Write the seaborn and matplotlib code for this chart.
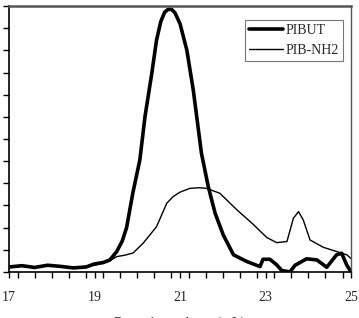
import matplotlib
matplotlib.use("Agg")
import matplotlib.pyplot as plt
import seaborn as sns
import pandas as pd
from matplotlib.ticker import MultipleLocator
from matplotlib.lines import Line2D

sns.set_theme(style="white")
plt.rcParams['font.family'] = ['Liberation Serif', 'DejaVu Serif']

# PIBUT (thick line)
pibut_x = [17.0, 17.3, 17.6, 17.9, 18.2, 18.5, 18.8, 19.0, 19.2, 19.36, 19.52, 19.65, 19.75, 19.9,
           20.06, 20.18, 20.34, 20.45, 20.55, 20.64, 20.72, 20.8, 20.88, 21.0, 21.16, 21.31, 21.5, 21.66,
           21.82, 22.01, 22.25, 22.56, 22.87, 22.94, 23.1, 23.26, 23.38, 23.57, 23.69, 23.96, 24.2,
           24.43, 24.66, 24.78, 24.9, 25.0]
pibut_y = [0.22, 0.28, 0.2, 0.3, 0.25, 0.18, 0.22, 0.36, 0.42, 0.54, 0.92, 1.4, 2.0, 3.6,
           5.05, 7.0, 8.97, 10.46, 11.3, 11.72, 11.85, 11.85, 11.7, 11.2, 10.0, 8.2, 5.36, 3.85,
           2.65, 1.67, 0.77, 0.47, 0.24, 0.57, 0.57, 0.32, 0.06, 0.0, 0.3, 0.59, 0.54,
           0.21, 0.77, 0.84, 0.3, 0.0]

# PIB-NH2 (thin line)
nh2_x = [17.0, 17.3, 17.6, 17.9, 18.2, 18.5, 18.8, 19.0, 19.2, 19.36, 19.52, 19.7, 19.9, 20.14,
         20.45, 20.69, 20.84, 21.0, 21.23, 21.45, 21.62, 21.93, 22.33, 22.68, 23.03, 23.26, 23.5,
         23.65, 23.77, 23.88, 24.04, 24.35, 24.66, 24.9, 25.0]
nh2_y = [0.2, 0.25, 0.22, 0.28, 0.24, 0.2, 0.25, 0.3, 0.4, 0.5, 0.69, 0.75, 0.85, 1.3,
         2.04, 3.1, 3.4, 3.6, 3.77, 3.8, 3.77, 3.55, 2.8, 2.2, 1.55, 1.32, 1.37,
         2.42, 2.72, 2.35, 1.44, 1.11, 0.92, 0.77, 0.6]

df = pd.concat([
    pd.DataFrame({'x': pibut_x, 'y': pibut_y, 'series': 'PIBUT'}),
    pd.DataFrame({'x': nh2_x, 'y': nh2_y, 'series': 'PIB-NH2'}),
])

fig = plt.figure(figsize=(3.59, 3.18), dpi=100)
ax = fig.add_axes([0.025, 0.145, 0.953, 0.836])

sns.lineplot(data=df, x='x', y='y', hue='series', size='series',
             sizes={'PIBUT': 2.6, 'PIB-NH2': 1.0},
             palette={'PIBUT': 'black', 'PIB-NH2': 'black'},
             sort=False, estimator=None, ax=ax, legend=False)

ax.set_xlim(17, 25)
ax.set_ylim(0, 12)
ax.set_xticks([17, 19, 21, 23, 25])
ax.xaxis.set_minor_locator(MultipleLocator(0.4))
ax.yaxis.set_major_locator(MultipleLocator(1))
ax.set_yticklabels([])
ax.tick_params(axis='x', which='both', direction='out', length=4, width=1, color='black',
               labelsize=10, pad=10, bottom=True)
ax.tick_params(axis='y', which='major', direction='out', length=4, width=1, color='black', left=True)
ax.set_xlabel('Retention volume (mL)', fontsize=10, labelpad=9)
ax.set_ylabel('')

for s in ['left', 'bottom']:
    ax.spines[s].set_color('black')
    ax.spines[s].set_linewidth(1.2)
ax.spines['top'].set_color('#555555')
ax.spines['top'].set_linewidth(1.8)
ax.spines['right'].set_color('#555555')
ax.spines['right'].set_linewidth(1.0)

handles = [Line2D([], [], color='black', lw=2.6), Line2D([], [], color='black', lw=1.0)]
leg = ax.legend(handles, ['PIBUT', 'PIB-NH2'], loc='upper right', bbox_to_anchor=(0.977, 0.947),
                fontsize=10, frameon=True, fancybox=False, edgecolor='#555555',
                handlelength=2.45, handletextpad=0.2, borderpad=0.3, labelspacing=0.45,
                borderaxespad=0)
leg.get_frame().set_linewidth(0.8)

fig.savefig('out.png', dpi=100)
